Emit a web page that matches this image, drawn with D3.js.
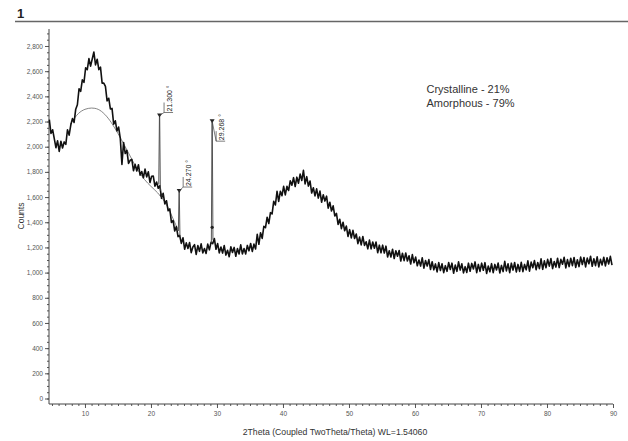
<!DOCTYPE html>
<html><head><meta charset="utf-8">
<script src="https://cdn.jsdelivr.net/npm/d3@7"></script>
<style>body{margin:0;background:#fff;} svg{display:block;font-family:"Liberation Sans", Arial, sans-serif;}</style>
</head><body><svg id="c" width="628" height="441"></svg>
<script>
// ---- data ----
const angleStart = 4.6, angleStep = 0.25;
const counts = [
2215,2105,2135,2065,1992,2047,1963,2043,1990,2038,2019,2135,2092,2172,2223,2193,2298,2333,2460,2440,
2531,2511,2627,2612,2700,2640,2697,2752,2650,2695,2612,2632,2505,2505,2479,2364,2385,2300,2304,2179,
2206,2126,2156,2066,1860,2034,1946,1971,1867,1892,1899,1809,1860,1807,1857,1774,1803,1753,1822,1760,
1801,1716,1765,1767,1687,1720,1670,1690,1590,1630,1546,1571,1491,1506,1399,1414,1330,1365,1285,1295,
1232,1277,1186,1236,1192,1239,1159,1203,1222,1145,1215,1169,1228,1157,1191,1152,1226,1181,1240,1230,
1271,1185,1231,1157,1203,1155,1215,1139,1177,1126,1205,1160,1200,1130,1191,1148,1221,1148,1191,1148,
1216,1173,1231,1168,1226,1188,1304,1225,1317,1272,1367,1357,1440,1390,1476,1466,1567,1537,1646,1566,
1646,1611,1685,1617,1685,1652,1729,1694,1754,1684,1758,1710,1782,1732,1812,1705,1762,1687,1727,1632,
1674,1609,1665,1592,1647,1559,1618,1568,1607,1512,1559,1489,1530,1450,1470,1383,1424,1349,1400,1332,
1370,1287,1341,1276,1336,1271,1307,1230,1282,1220,1287,1216,1245,1189,1258,1188,1243,1193,1243,1158,
1218,1158,1218,1156,1210,1124,1173,1124,1186,1112,1174,1130,1176,1092,1154,1095,1156,1092,1134,1068,
1143,1078,1123,1054,1100,1052,1118,1035,1096,1052,1103,1025,1086,1022,1069,1006,1079,1017,
1070,1000,1055,1010,1080,1025,1075,995,1060,1010,1085,1020,1070,998,1047,1001,1075,1011,1073,1029,
1085,1000,1065,1010,1075,1019,1079,993,1052,1007,1071,1000,1065,1021,1076,997,1057,1008,1089,1014,
1070,1000,1075,1020,1080,1005,1065,1010,
1081,1008,1065,1022,1094,1011,1083,1039,1096,1023,1080,1032,1109,1026,1093,1039,1105,1051,1112,1032,
1088,1044,1114,1040,1105,1066,1122,1037,1103,1048,1114,1055,1120,1041,1102,1048,1123,1064,1120,1045,
1115,1070,1130,1050,1110,1055,1125,1045,1105,1061,1122,1053,1118,1069,1129,1060
];
const amorphAngles = [7.8,8.5,9.0,9.5,10.0,10.5,11.0,11.5,12.0,12.5,13.0,13.5,14.0,14.5,15.0,15.5,16.0,16.5,17.0,17.5,18.0,18.5,19.0,19.5,20.0,20.5,21.0,21.5,22.0,22.5,23.0,23.5,24.0];
const amorphCounts = [2180,2235,2265,2285,2298,2305,2308,2306,2298,2282,2258,2228,2192,2150,2105,2058,2010,1960,1910,1860,1815,1775,1740,1710,1685,1660,1635,1605,1570,1525,1470,1410,1350];
const peakAngles = [21.300, 24.270, 29.268];
const peakTops = [2240, 1640, 2195];
const peakBaseLeft = [1700, 1330, 1230];
const peakBaseRight = [1650, 1290, 1260];
const peakLabels = ["21.300 °", "24.270 °", "29.268 °"];
const dotAngles = [21.6, 29.27];
const dotCounts = [1615, 1360];
const xTicks = [10,20,30,40,50,60,70,80,90];
const yTicks = [0,200,400,600,800,1000,1200,1400,1600,1800,2000,2200,2400,2600,2800];
const legendLines = ["Crystalline - 21%", "Amorphous - 79%"];
const titleText = "1";
const xLabel = "2Theta (Coupled TwoTheta/Theta) WL=1.54060";
const yLabel = "Counts";

// ---- layout ----
const labelDx = [4.5, 4, 4], labelDy = [-4, -5, 19];
const svg = d3.select("#c");
const x = d3.scaleLinear().domain([4.55, 90]).range([49, 613]);
const y = d3.scaleLinear().domain([0, 2935]).range([398.5, 29]);
const axisY0 = 404;

// title + rule
svg.append("text").attr("x", 17).attr("y", 18).attr("font-size", 13).attr("font-weight", "bold").attr("fill", "#222").text(titleText);
svg.append("line").attr("x1", 15).attr("x2", 628).attr("y1", 21.5).attr("y2", 21.5).attr("stroke", "#666").attr("stroke-width", 1.3);

// y axis
const gy = svg.append("g").attr("transform", "translate(49,0)");
gy.call(d3.axisLeft(y).tickValues(d3.range(0, 2901, 50)).tickSize(2).tickFormat(""));
gy.select(".domain").remove();
const gy2 = svg.append("g").attr("transform", "translate(49,0)");
gy2.call(d3.axisLeft(y).tickValues(yTicks).tickSize(4).tickPadding(2).tickFormat(d3.format(",")));
gy2.select(".domain").remove();
svg.selectAll("g .tick line").attr("stroke", "#555");
gy2.selectAll("text").attr("font-size", 6.5).attr("fill", "#555").attr("font-family", "Liberation Sans, Arial");
svg.append("line").attr("x1", 49).attr("x2", 49).attr("y1", 29).attr("y2", axisY0).attr("stroke", "#444");

// x axis
const gx = svg.append("g").attr("transform", `translate(0,${axisY0})`);
gx.call(d3.axisBottom(x).tickValues(d3.range(5, 91, 1)).tickSize(2).tickFormat(""));
gx.select(".domain").remove();
const gx2 = svg.append("g").attr("transform", `translate(0,${axisY0})`);
gx2.call(d3.axisBottom(x).tickValues(xTicks).tickSize(4).tickPadding(3).tickFormat(d3.format("d")));
gx2.select(".domain").remove();
gx.selectAll("line").attr("stroke", "#555");
gx2.selectAll("line").attr("stroke", "#555");
gx2.selectAll("text").attr("font-size", 6.5).attr("fill", "#555").attr("font-family", "Liberation Sans, Arial");
svg.append("line").attr("x1", 49).attr("x2", 613).attr("y1", axisY0).attr("y2", axisY0).attr("stroke", "#444");

// axis titles
svg.append("text").attr("transform", "translate(24,216) rotate(-90)").attr("text-anchor", "middle")
  .attr("font-size", 8.5).attr("fill", "#333").text(yLabel);
svg.append("text").attr("x", 335).attr("y", 435).attr("text-anchor", "middle")
  .attr("font-size", 8.7).attr("fill", "#333").text(xLabel);

// amorphous fit
const pts = counts.map((c, i) => [angleStart + angleStep * i, c]);
svg.append("path").datum(amorphAngles.map((a, i) => [a, amorphCounts[i]]))
  .attr("d", d3.line().x(d => x(d[0])).y(d => y(d[1])).curve(d3.curveBasis))
  .attr("fill", "none").attr("stroke", "#777").attr("stroke-width", 0.9);

// trace
svg.append("path").datum(pts)
  .attr("d", d3.line().x(d => x(d[0])).y(d => y(d[1])))
  .attr("fill", "none").attr("stroke", "#111").attr("stroke-width", 1.6).attr("stroke-linejoin", "round");

// peaks
peakAngles.forEach((p, i) => {
  const pk = [[p - 0.12, peakBaseLeft[i]], [p - 0.02, peakTops[i]], [p + 0.02, peakTops[i]], [p + 0.12, peakBaseRight[i]]];
  svg.append("path").datum(pk).attr("d", d3.line().x(d => x(d[0])).y(d => y(d[1])))
    .attr("fill", "none").attr("stroke", "#444").attr("stroke-width", 0.9);
  const mx = x(p), my = y(peakTops[i]);
  svg.append("path").attr("d", `M${mx - 2.5},${my - 3}L${mx + 2.5},${my - 3}L${mx},${my + 1}Z`).attr("fill", "#222");
  const cx = mx + labelDx[i], cy = my + labelDy[i];
  svg.append("path").attr("d", `M${mx},${my - 1}L${cx},${cy}L${cx + 9},${cy}M${cx},${cy}L${cx},${cy - 10}`)
    .attr("fill", "none").attr("stroke", "#444").attr("stroke-width", 0.7);
  svg.append("text").attr("transform", `translate(${cx + 8},${cy - 1}) rotate(-90)`)
    .attr("font-size", 7).attr("fill", "#222").text(peakLabels[i]);
});
dotAngles.forEach((a, i) => {
  svg.append("circle").attr("cx", x(a)).attr("cy", y(dotCounts[i])).attr("r", 1.6).attr("fill", "#222");
});

// legend
legendLines.forEach((t, i) => {
  svg.append("text").attr("x", 426.5).attr("y", 93 + i * 14).attr("font-size", 11).attr("fill", "#333").text(t);
});
</script></body></html>
